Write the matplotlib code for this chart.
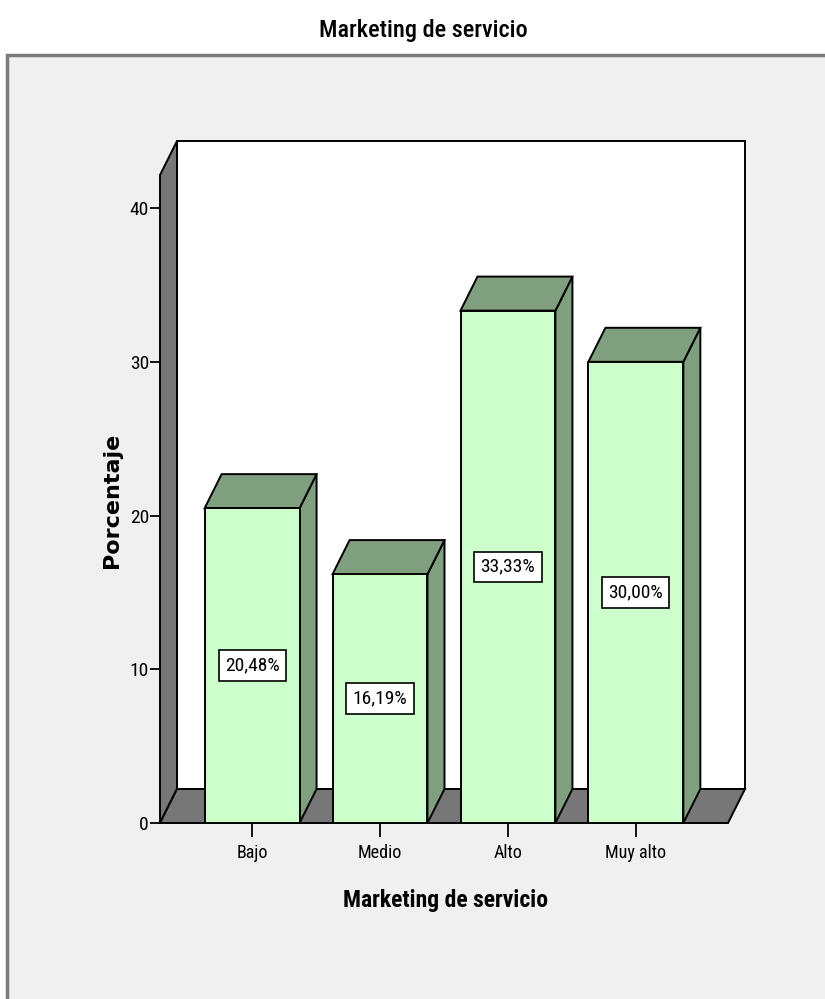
import numpy as np
import matplotlib.pyplot as plt
from matplotlib.patches import Polygon, Rectangle

categories = ['Bajo', 'Medio', 'Alto', 'Muy alto']
percentages = [20.48, 16.19, 33.33, 30.00]
value_labels = ['20,48%', '16,19%', '33,33%', '30,00%']
y_ticks = [0, 10, 20, 30, 40]

NARROW = ['Roboto Condensed', 'DejaVu Sans']
FRONT = '#ccffcc'
SHADE = '#7f9f7f'
WALL = '#777777'

W, H = 825, 999
fig = plt.figure(figsize=(W / 100, H / 100), dpi=100)
fig.patch.set_facecolor('white')

# grey chart panel (runs off the right and bottom edges)
fig.add_artist(Rectangle((7 / W, -0.05), 1.1, (H - 55) / H + 0.05,
                         transform=fig.transFigure, facecolor='#f0f0f0',
                         edgecolor='#7a7a7a', lw=2.5, zorder=0))

ax = fig.add_axes([160 / W, (H - 823) / H, (728 - 160) / W, (823 - 175) / H])
ax.set_xlim(-0.72, 3.72)
ax.set_ylim(0, 42.15)
ax.patch.set_visible(False)
for s in ax.spines.values():
    s.set_visible(False)

# depth of the 3D effect, in pixels, converted to data units
DX, DY = 17, 34
p0 = ax.transData.transform((0, 0))
ddx, ddy = ax.transData.inverted().transform(p0 + (DX, DY))

x0, x1 = ax.get_xlim()
y1 = ax.get_ylim()[1]


def face(pts, color, z):
    ax.add_patch(Polygon(pts, closed=True, facecolor=color, edgecolor='black',
                         lw=1.4, zorder=z, clip_on=False, joinstyle='miter'))


# back wall, left wall, floor
face([(x0 + ddx, ddy), (x1 + ddx, ddy), (x1 + ddx, y1 + ddy), (x0 + ddx, y1 + ddy)], 'white', 1)
face([(x0, 0), (x0, y1), (x0 + ddx, y1 + ddy), (x0 + ddx, ddy)], WALL, 2)
face([(x0, 0), (x1, 0), (x1 + ddx, ddy), (x0 + ddx, ddy)], WALL, 2)

# bars
x = np.arange(len(categories))
bw = 0.742
for xi, v, lab in zip(x, percentages, value_labels):
    l, r = xi - bw / 2, xi + bw / 2
    face([(r, 0), (r, v), (r + ddx, v + ddy), (r + ddx, ddy)], SHADE, 3)
    face([(l, v), (r, v), (r + ddx, v + ddy), (l + ddx, v + ddy)], SHADE, 3)
    face([(l, 0), (r, 0), (r, v), (l, v)], FRONT, 4)
    ax.text(xi, v / 2, lab, ha='center', va='center', fontsize=14,
            family=NARROW, zorder=6,
            bbox=dict(boxstyle='square,pad=0.32', facecolor='white',
                      edgecolor='black', lw=1.2))

ax.set_yticks(y_ticks)
ax.set_xticks(x)
ax.set_xticklabels(categories)
ax.tick_params(axis='y', length=7, width=1.3, pad=1, labelsize=14)
ax.tick_params(axis='x', length=10, width=1.3, pad=5, labelsize=13)
for t in ax.get_xticklabels() + ax.get_yticklabels():
    t.set_family(NARROW)

ax.set_ylabel('Porcentaje', fontsize=16, fontweight='bold', family='DejaVu Sans')
ax.yaxis.set_label_coords(-0.0845, 0.498)
ax.yaxis.label.set_verticalalignment('center')
ax.set_xlabel('Marketing de servicio', fontsize=17, fontweight='bold', family=NARROW)
ax.xaxis.set_label_coords(0.502, -0.119)
ax.xaxis.label.set_verticalalignment('center')

fig.text(423 / W, 1 - 31 / H, 'Marketing de servicio', ha='center', va='center',
         fontsize=17.5, fontweight='medium', family=NARROW)

fig.savefig('out.png', dpi=100)
